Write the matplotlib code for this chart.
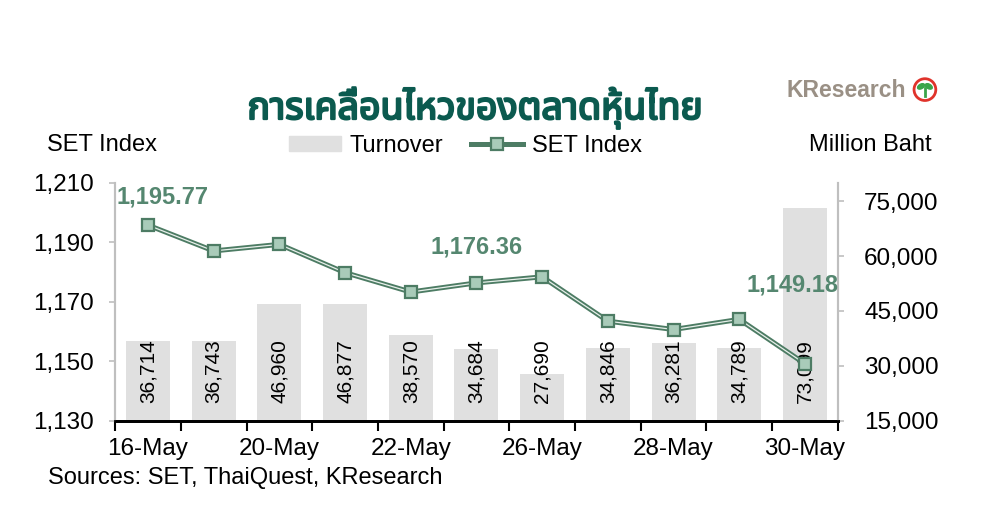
import matplotlib
matplotlib.use("Agg")
import matplotlib.pyplot as plt
from matplotlib.patches import Patch, Circle, Ellipse
from matplotlib.lines import Line2D
from matplotlib import font_manager
import matplotlib.transforms as mtransforms
import matplotlib.patheffects as pe

# data
dates = ['16-May', '17-May', '20-May', '21-May', '22-May', '23-May',
         '26-May', '27-May', '28-May', '29-May', '30-May']
set_index = [1195.77, 1187.1, 1189.3, 1179.8, 1173.3, 1176.36,
             1178.4, 1163.5, 1160.7, 1164.1, 1149.18]
turnover = [36714, 36743, 46960, 46877, 38570, 34684,
            27690, 34846, 36281, 34789, 73099]
labelled_points = [0, 5, 10]
label_offsets = [(15, 28), (0, 36), (-12, 79)]  # pixels

title = 'การเคลื่อนไหวของตลาดหุ้นไทย'
source = 'Sources: SET, ThaiQuest, KResearch'

plt.rcParams['font.family'] = ['Liberation Sans', 'DejaVu Sans']

# look for a font that can draw Thai
names = {f.name for f in font_manager.fontManager.ttflist}
thai_fonts = [n for n in ['Noto Sans Thai', 'Noto Sans Thai UI', 'Noto Looped Thai',
                          'Sarabun', 'Loma', 'Garuda', 'Kinnari', 'Norasi',
                          'Tlwg Typist', 'Waree', 'Umpush', 'Leelawadee UI',
                          'Tahoma', 'FreeSans', 'Noto Sans', 'DejaVu Sans'] if n in names]

GREEN = '#4d7c64'
LIGHT = '#a9cbb9'
BAR = '#e0e0e0'
GRAY = '#bfbfbf'
FS = 17

fig = plt.figure(figsize=(10.01, 5.12), dpi=100)
ax = fig.add_axes([0.115, 0.178, 0.722, 0.465])
ax2 = ax.twinx()
ax.set_zorder(ax2.get_zorder() + 1)
ax.patch.set_visible(False)

x = list(range(len(dates)))

# bars on the right axis
ax2.bar(x, turnover, width=0.67, color=BAR, zorder=1)
ax2.set_ylim(15000, 80000)
ax2.set_yticks([15000, 30000, 45000, 60000, 75000])
ax2.set_yticklabels([f'{v:,}' for v in [15000, 30000, 45000, 60000, 75000]])
blend = mtransforms.blended_transform_factory(ax2.transData, ax2.transAxes)
for xi, v in zip(x, turnover):
    ax2.text(xi, 0.075, f'{v:,}', transform=blend, rotation=90,
             rotation_mode='anchor', ha='left', va='center', fontsize=15,
             color='black', zorder=2)

# SET index line (double line look)
ax.plot(x, set_index, color=GREEN, lw=3.6, solid_capstyle='round', zorder=3)
ax.plot(x, set_index, color='#e8f0eb', lw=0.9, zorder=4)
ax.plot(x, set_index, ls='none', marker='s', ms=9, mfc=LIGHT, mec=GREEN,
        mew=1.6, zorder=5)
for i, (dx, dy) in zip(labelled_points, label_offsets):
    ax.annotate(f'{set_index[i]:,.2f}', (x[i], set_index[i]), xytext=(dx, dy),
                textcoords='offset pixels', ha='center', va='center',
                fontsize=17, fontweight='bold', color='#558770', zorder=6)

ax.set_ylim(1130, 1210)
ax.set_yticks([1130, 1150, 1170, 1190, 1210])
ax.set_yticklabels([f'{v:,}' for v in [1130, 1150, 1170, 1190, 1210]])
ax.set_xlim(-0.5, len(dates) - 0.5)
ax.set_xticks([i - 0.5 for i in range(len(dates) + 1)])
ax.set_xticklabels([])
ax.set_xticks(x[::2], minor=True)
ax.set_xticklabels(dates[::2], minor=True)
ax.tick_params(axis='x', which='major', length=7, width=1.5, color='black',
               direction='out')
ax.tick_params(axis='x', which='minor', length=0, pad=12, labelsize=17.5)
ax.tick_params(axis='y', length=4, width=1.2, color=GRAY, labelsize=17.5, pad=11)
ax2.tick_params(axis='y', length=4, width=1.2, color=GRAY, labelsize=17.5, pad=15)

for a in (ax, ax2):
    a.spines['top'].set_visible(False)
    a.spines['left'].set_color(GRAY)
    a.spines['right'].set_color(GRAY)
    a.spines['left'].set_linewidth(1.5)
    a.spines['right'].set_linewidth(1.5)
    a.spines['bottom'].set_color('black')
    a.spines['bottom'].set_linewidth(2)

# headings
fig.text(0.4745, 0.789, title, ha='center', va='center', fontsize=27,
         fontweight='bold', color='#0b5a4f', family=thai_fonts + ['DejaVu Sans'],
         path_effects=[pe.withStroke(linewidth=1.6, foreground='#0b5a4f')])
fig.text(0.047, 0.717, 'SET Index', ha='left', va='center', fontsize=FS)
fig.text(0.931, 0.717, 'Million Baht', ha='right', va='center', fontsize=FS)
fig.text(0.048, 0.066, source, ha='left', va='center', fontsize=FS)

handles = [Patch(color=BAR),
           Line2D([], [], color=GREEN, lw=3.6, marker='s', ms=9, mfc=LIGHT,
                  mec=GREEN, mew=1.6)]
fig.legend(handles, ['Turnover', 'SET Index'], loc='center',
           bbox_to_anchor=(0.465, 0.715), ncol=2, frameon=False, fontsize=FS,
           handlelength=2.2, handleheight=0.6, columnspacing=1.2, handletextpad=0.35)

# KResearch logo
fig.text(0.786, 0.824, 'KResearch', ha='left', va='center', fontsize=16.5,
         fontweight='bold', color='#9a9085')
logo = fig.add_axes([0.909, 0.8, 0.03, 0.05])
logo.set_xlim(-1, 1)
logo.set_ylim(-1, 1)
logo.set_aspect('equal')
logo.axis('off')
logo.add_patch(Circle((0, 0), 0.85, fc='white', ec='#e0332b', lw=2))
logo.add_patch(Ellipse((-0.3, 0.25), 0.6, 0.35, angle=30, color='#3aa54a'))
logo.add_patch(Ellipse((0.3, 0.25), 0.6, 0.35, angle=-30, color='#3aa54a'))
logo.plot([0, 0], [-0.5, 0.15], color='#3aa54a', lw=2)

fig.savefig('out.png', dpi=100)
